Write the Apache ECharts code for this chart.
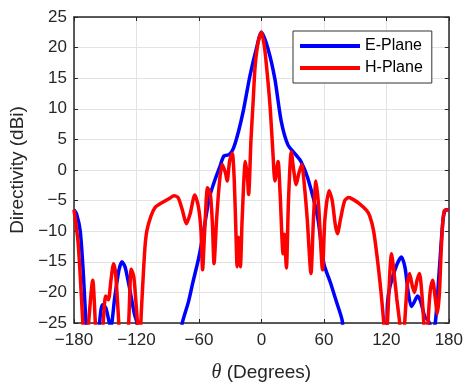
<!DOCTYPE html>
<html>
<head>
<meta charset="utf-8">
<script src="https://cdn.jsdelivr.net/npm/echarts@6/dist/echarts.min.js"></script>
<style>
html,body{margin:0;padding:0;background:#fff;}
#chart{width:466px;height:388px;}
</style>
</head>
<body>
<div id="chart"></div>
<script>
// Tick labels
var xTicks = [-180, -120, -60, 0, 60, 120, 180];
var yTicks = [-25, -20, -15, -10, -5, 0, 5, 10, 15, 20, 25];

// E-Plane (theta in degrees, directivity in dBi); values below -25 are clipped
var eTheta = [-180,-177.5,-174,-171,-168.5,-166,-158,-155.5,-152.7,-149.5,-146,-144.5,-141,-137,-134,-131,-127,-122,-119.5,-117,
  -80,-76,-70,-66,-60,-55,-50,-44,-40,-36,-31,-27,-22,-17,-11,-5,0,6.5,13,19,25.5,33,38,44.5,54,60,66.5,72,77.7,80,
  120,121,123.5,130,134.5,138,141,144,147,150,153,157,160,164,167,171,174.5,177,180];
var eVal = [-6.5,-7.2,-10,-17,-25,-30,-30,-25,-22,-22.5,-25,-25.5,-21,-16.5,-15,-15.8,-19,-23.5,-25,-30,
  -30,-25,-21.5,-18.5,-14.2,-9.5,-4.5,-1.3,0.5,2.3,2.5,3.5,6.3,10,15.4,19.7,22.5,19.7,14.8,8,4.1,2.5,1.4,-1.3,-7.7,-15.3,-18.5,-21.5,-24.7,-30,
  -30,-22,-19,-15.5,-14.2,-16,-20,-22.3,-21.5,-20.6,-21.5,-24,-24.5,-26,-25,-16,-8,-6.5,-6.5];

// H-Plane
var hTheta = [-180,-176,-171.5,-169,-166,-162,-159.5,-157,-152,-149.6,-147,-144.5,-142,-140,-137,-135,-130,-127.5,-125,-122.5,-119,-117,-115,-112,-110,-106,-102,-98,-94,-88,-84,-80,-76,-72,-68.5,-64,-60.5,-58,-56.5,-54.5,-51.7,-49,-47,-45.5,-43,-40,-37.6,-34.5,-32.9,-30.5,-28,-26,-24,-23.4,-22,-20.2,-18.5,-15.4,-13.5,-12.3,-10,-8,-6,-3,0,3,6,8.5,11,13,16,18,20.8,22,24,26,28.7,31,33.4,36,38.8,41,44,47.6,50,52.4,55,58.7,61,65,68,71,73,76,80,84,88,94,101,104,107.7,111,114,116,117.5,119,121,125,127.5,130,132.8,135,137.6,140,142.3,145,147,149.5,151.8,154,156,158,160,162,164.5,167,169,171,173,175.5,180];
var hVal = [-6.5,-12,-25,-32,-25,-18,-25,-32,-25,-20.6,-21.2,-18,-15.3,-17,-25,-32,-30,-25,-16.2,-17.5,-25,-28,-22,-13,-9.9,-7.5,-6.1,-5.6,-5.2,-4.6,-4.2,-4.5,-6.5,-8.8,-7.2,-4.1,-6,-10,-16.3,-10,-2.9,-4,-9,-15.3,-8,-1.5,0.9,-0.5,-1.8,1.5,2.7,-2,-13,-15.8,-11,-15.8,-8,1.4,-1,-4,5,11,17,21,22.5,20,15,10,3,-1.8,1.4,-4,-13.7,-10.5,-16,-5,3,0,-2.4,-0.5,0.9,-2,-8,-16.9,-8,-1.8,-6,-16.3,-8,-3.4,-5,-9,-10.4,-8,-5,-4.5,-4.8,-5.5,-6.6,-7.5,-9.9,-14,-18.5,-22,-25,-30,-25,-13.7,-17,-21,-25,-31,-25,-19,-16.9,-19,-20,-18,-16.9,-20,-25,-31,-25,-20,-18,-21,-23.5,-20,-12,-6.7,-6.5];

function zip(a, b) { return a.map(function (v, i) { return [v, b[i]]; }); }

var chart = echarts.init(document.getElementById('chart'), null, {renderer: 'canvas'});
var FONT = 'Liberation Sans, Arial, sans-serif';
var axisCol = '#262626';

chart.setOption({
  animation: false,
  backgroundColor: '#fff',
  grid: {left: 74, right: 13, top: 17, bottom: 61},
  legend: {
    orient: 'vertical',
    left: 293, top: 31,
    padding: [7, 9, 7, 7],
    itemGap: 6,
    itemWidth: 60, itemHeight: 4,
    icon: 'rect',
    backgroundColor: '#fff',
    borderColor: '#333',
    borderWidth: 1,
    borderRadius: 0,
    textStyle: {fontFamily: FONT, fontSize: 16, color: '#000'},
    data: ['E-Plane', 'H-Plane']
  },
  xAxis: [{
    type: 'value', min: xTicks[0], max: xTicks[xTicks.length - 1], interval: 60,
    name: '{t|θ} (Degrees)', nameLocation: 'middle', nameGap: 40,
    nameTextStyle: {fontFamily: FONT, fontSize: 19, color: '#262626',
      rich: {t: {fontFamily: 'Liberation Serif, Times New Roman, serif', fontStyle: 'italic', fontSize: 20, color: '#262626'}}},
    axisLine: {show: true, onZero: false, lineStyle: {color: axisCol, width: 1.5}},
    axisTick: {show: true, inside: true, length: 4, lineStyle: {color: axisCol}},
    axisLabel: {fontFamily: FONT, fontSize: 17, color: '#262626', margin: 9,
      formatter: function (v) { return String(v).replace('-', '\u2212'); }},
    splitLine: {show: true, lineStyle: {color: '#e3e3e3', width: 1}}
  }, {
    type: 'value', position: 'top', min: -180, max: 180, interval: 60,
    axisLine: {show: true, onZero: false, lineStyle: {color: axisCol, width: 1.5}},
    axisTick: {show: true, inside: true, length: 4, lineStyle: {color: axisCol}},
    axisLabel: {show: false}, splitLine: {show: false}
  }],
  yAxis: [{
    type: 'value', min: yTicks[0], max: yTicks[yTicks.length - 1], interval: 5,
    name: 'Directivity (dBi)', nameLocation: 'middle', nameGap: 38,
    nameTextStyle: {fontFamily: FONT, fontSize: 19, color: '#262626'},
    axisLine: {show: true, onZero: false, lineStyle: {color: axisCol, width: 1.5}},
    axisTick: {show: true, inside: true, length: 4, lineStyle: {color: axisCol}},
    axisLabel: {fontFamily: FONT, fontSize: 17, color: '#262626', margin: 7,
      formatter: function (v) { return String(v).replace('-', '\u2212'); }},
    splitLine: {show: true, lineStyle: {color: '#e3e3e3', width: 1}}
  }, {
    type: 'value', position: 'right', min: -25, max: 25, interval: 5,
    axisLine: {show: true, onZero: false, lineStyle: {color: axisCol, width: 1.5}},
    axisTick: {show: true, inside: true, length: 4, lineStyle: {color: axisCol}},
    axisLabel: {show: false}, splitLine: {show: false}
  }],
  series: [{
    name: 'E-Plane', type: 'line', data: zip(eTheta, eVal),
    showSymbol: false, symbol: 'none', smooth: 0.25, clip: true,
    itemStyle: {color: '#0000ff'},
    lineStyle: {color: '#0000ff', width: 3.5}
  }, {
    name: 'H-Plane', type: 'line', data: zip(hTheta, hVal),
    showSymbol: false, symbol: 'none', smooth: 0.25, clip: true,
    itemStyle: {color: '#ff0000'},
    lineStyle: {color: '#ff0000', width: 3.5}
  }]
});
</script>
</body>
</html>
